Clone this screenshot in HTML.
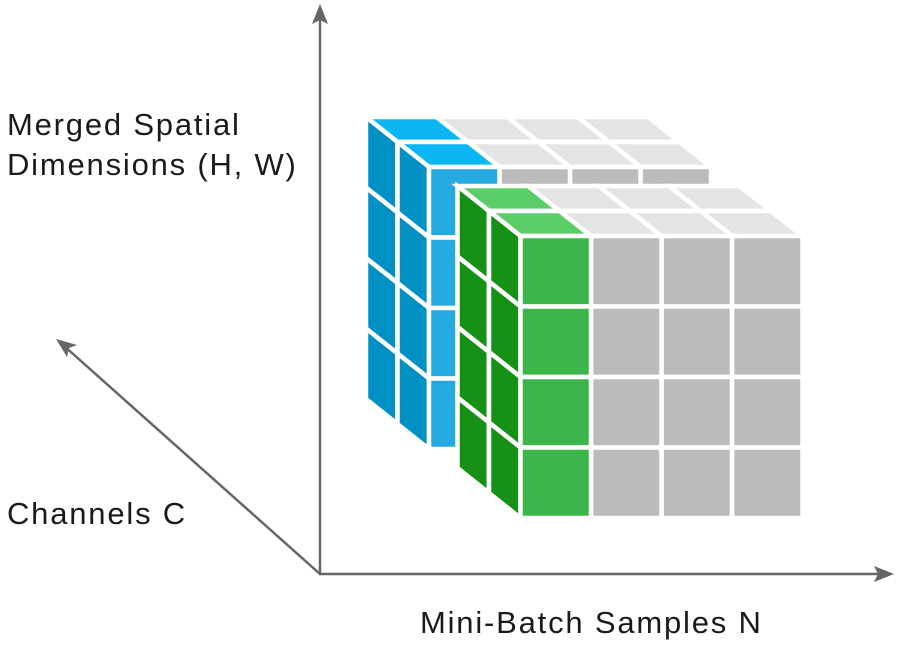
<!DOCTYPE html>
<html><head><meta charset="utf-8"><style>
html,body{margin:0;padding:0;background:#fff;}
svg{display:block}
text{font-family:"Liberation Sans",sans-serif;font-size:31px;letter-spacing:1.8px;fill:#1a1a1a}
</style></head><body>
<svg id="s" width="900" height="650" viewBox="0 0 900 650" xmlns="http://www.w3.org/2000/svg">
<g id="cubes"></g>
<g stroke="#666" stroke-width="2.5" fill="none">
<line x1="320" y1="574" x2="320" y2="14"/>
<line x1="319" y1="574" x2="884" y2="574"/>
<line x1="320" y1="574" x2="63" y2="345"/>
</g>
<g fill="#666">
<polygon points="320,4 328,24 320,20 312,24"/>
<polygon points="894,574 874,566 878,574 874,582"/>
<polygon points="56,339 77,345 69,348 67,357"/>
</g>
<text x="7" y="135">Merged Spatial</text>
<text x="7" y="175">Dimensions (H, W)</text>
<text x="7" y="524">Channels C</text>
<text x="420" y="633">Mini-Batch Samples N</text>
</svg>
<script>
(function(){
var g=document.getElementById('cubes');var P=70.5,dx=-31.5,dy=-25;
function poly(pts,fill){var p=document.createElementNS('http://www.w3.org/2000/svg','polygon');
p.setAttribute('points',pts.map(function(a){return a[0].toFixed(1)+','+a[1].toFixed(1)}).join(' '));
p.setAttribute('fill',fill);p.setAttribute('stroke','#fff');p.setAttribute('stroke-width','4.5');p.setAttribute('stroke-linejoin','miter');g.appendChild(p);}
function block(ox,oy,c){
for(var d=1;d>=0;d--){
 for(var j=0;j<4;j++){for(var i=3;i>=0;i--){
  var X=ox+i*P+d*dx,Y=oy+j*P+d*dy;
  if(j==0)poly([[X,Y],[X+P,Y],[X+P+dx,Y+dy],[X+dx,Y+dy]],i==0?c.top:'#e4e4e4');
  if(i==0)poly([[X,Y],[X,Y+P],[X+dx,Y+P+dy],[X+dx,Y+dy]],c.side);
  poly([[X,Y],[X+P,Y],[X+P,Y+P],[X,Y+P]],i==0?c.front:'#bbbbbb');
 }}
}}
block(429,167,{top:'#0bb6f5',side:'#0090c4',front:'#26a8e0'});
block(520.5,236,{top:'#5bcd68',side:'#169116',front:'#3cb54a'});
})();
</script>
</body></html>
